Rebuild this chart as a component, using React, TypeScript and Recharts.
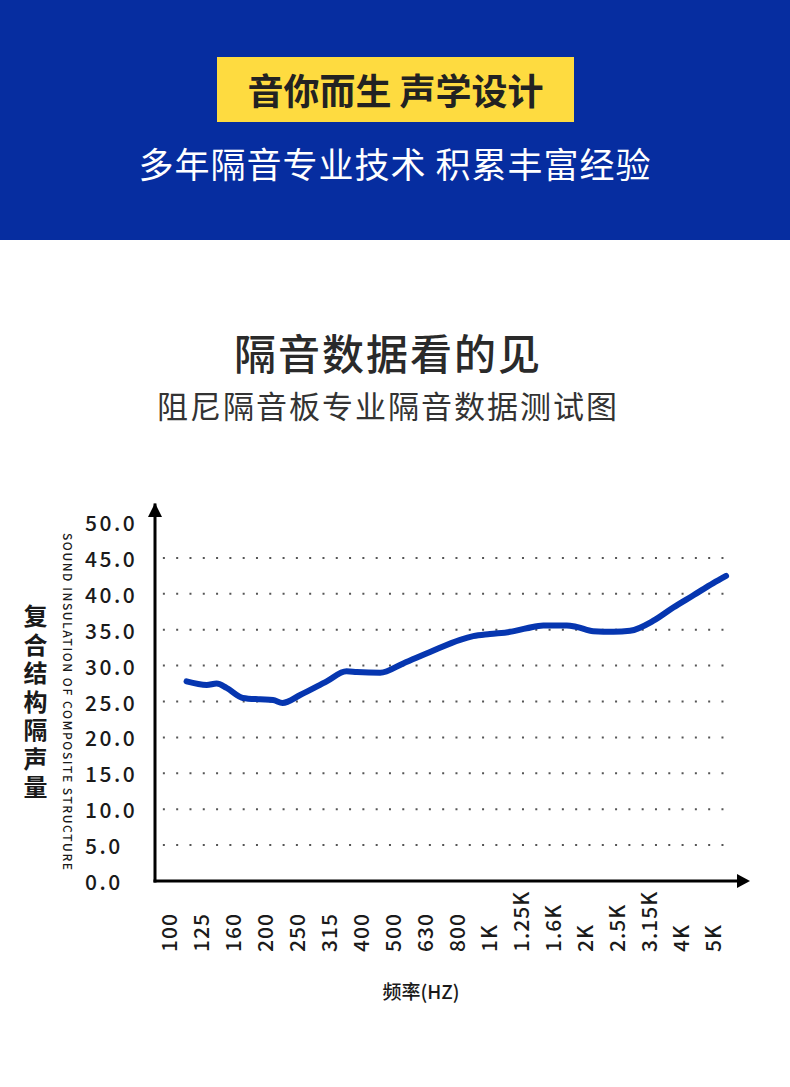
import React from "react";
import { LineChart, Line, XAxis, YAxis, ReferenceLine, ReferenceDot } from "recharts";

const freqLabels = ["100", "125", "160", "200", "250", "315", "400", "500", "630", "800", "1K", "1.25K", "1.6K", "2K", "2.5K", "3.15K", "4K", "5K"];
const tickIndex = freqLabels.map((_, i) => i);

// curve positions in tick-index units and insulation values (dB)
const curvePos = [0.58, 1.21, 1.52, 1.83, 2.34, 2.88, 3.28, 3.58, 4.13, 4.96, 5.58, 5.9, 6.63, 7.35, 8.19, 9.13, 9.54, 10.06, 10.69, 11.21, 11.73, 12.46, 12.77, 13.29, 13.92, 14.44, 15.17, 15.79, 16.42, 17.04, 17.44];
const curveValues = [27.8, 27.3, 27.5, 26.9, 25.5, 25.3, 25.2, 24.8, 25.9, 27.8, 29.2, 29.1, 29.0, 30.3, 31.9, 33.6, 34.1, 34.4, 34.7, 35.2, 35.6, 35.6, 35.4, 34.8, 34.7, 34.85, 36.25, 38.1, 39.8, 41.5, 42.5];

const yTicks = [0, 5, 10, 15, 20, 25, 30, 35, 40, 45, 50];
const gridValues = [5, 10, 15, 20, 25, 30, 35, 40, 45];

const X_DOMAIN: [number, number] = [-0.406, 17.875];
const Y_DOMAIN: [number, number] = [0, 52.37];
const GRID_X: [number, number] = [-0.16, 17.6];

const data = curvePos.map((p, i) => ({ pos: p, value: curveValues[i] }));

const FONT = '"Noto Sans CJK SC", "Noto Sans", sans-serif';

const XTick = (props: any) => {
  const { x, payload } = props;
  const ly = 952;
  return (
    <text
      x={x}
      y={ly}
      transform={`rotate(-90, ${x}, ${ly})`}
      textAnchor="start"
      dominantBaseline="central"
      fontSize={21}
      fontWeight={500}
      letterSpacing={1}
      fill="#1a1a1a"
      fontFamily={FONT}
    >
      {freqLabels[payload.value]}
    </text>
  );
};

const YTick = (props: any) => {
  const { y, payload } = props;
  return (
    <text
      x={85}
      y={y}
      textAnchor="start"
      dominantBaseline="central"
      fontSize={21}
      fontWeight={500}
      letterSpacing={2.5}
      fill="#1a1a1a"
      fontFamily={FONT}
    >
      {Number(payload.value).toFixed(1)}
    </text>
  );
};

const RightArrow = (props: any) => {
  const { cx, cy } = props;
  return <polygon points={`${cx - 3},${cy - 7} ${cx + 10},${cy} ${cx - 3},${cy + 7}`} fill="#000" />;
};

const UpArrow = (props: any) => {
  const { cx, cy } = props;
  return <polygon points={`${cx - 7},${cy + 12} ${cx},${cy - 2} ${cx + 7},${cy + 12}`} fill="#000" />;
};

export default function App() {
  return (
    <div style={{ position: "absolute", left: 0, top: 0, width: 790, height: 1087, background: "#fff", overflow: "hidden", fontFamily: FONT }}>
      {/* header band */}
      <div style={{ position: "absolute", left: 0, top: 0, width: 790, height: 240, background: "#062da0" }} />
      <div style={{ position: "absolute", left: 217, top: 57, width: 357, height: 65, background: "#fedb40" }} />
      <div style={{ position: "absolute", left: 217, top: 57, width: 357, height: 65, lineHeight: "65px", textAlign: "center", fontSize: 36, fontWeight: 700, color: "#222", whiteSpace: "nowrap" }}>
        音你而生 声学设计
      </div>
      <div style={{ position: "absolute", left: 0, top: 140, width: 790, height: 46, lineHeight: "46px", textAlign: "center", fontSize: 35, fontWeight: 400, color: "#fff", letterSpacing: 1, whiteSpace: "nowrap" }}>
        多年隔音专业技术 积累丰富经验
      </div>

      {/* titles */}
      <div style={{ position: "absolute", left: 0, top: 324, width: 776, height: 56, lineHeight: "56px", textAlign: "center", fontSize: 42, fontWeight: 500, color: "#2a2a2a", letterSpacing: 2, whiteSpace: "nowrap" }}>
        隔音数据看的见
      </div>
      <div style={{ position: "absolute", left: 0, top: 384, width: 776, height: 42, lineHeight: "42px", textAlign: "center", fontSize: 31, fontWeight: 400, color: "#333", letterSpacing: 2, whiteSpace: "nowrap" }}>
        阻尼隔音板专业隔音数据测试图
      </div>

      {/* y axis titles */}
      <div style={{ position: "absolute", left: 20, top: 604, writingMode: "vertical-rl", fontSize: 24, fontWeight: 700, color: "#1a1a1a", letterSpacing: 4.5, lineHeight: "30px", whiteSpace: "nowrap" }}>
        复合结构隔声量
      </div>

      <div style={{ position: "absolute", left: 0, top: 0 }}>
        <LineChart width={790} height={1087} data={data} margin={{ top: 505, right: 50, bottom: 136, left: 95 }}>
          <XAxis
            type="number"
            dataKey="pos"
            domain={X_DOMAIN}
            ticks={tickIndex}
            allowDataOverflow
            height={70}
            tickLine={false}
            axisLine={{ stroke: "#000", strokeWidth: 3, strokeLinecap: "square" }}
            tick={<XTick />}
            interval={0}
          />
          <YAxis
            type="number"
            domain={Y_DOMAIN}
            ticks={yTicks}
            allowDataOverflow
            width={60}
            tickLine={false}
            axisLine={{ stroke: "#000", strokeWidth: 3, strokeLinecap: "square" }}
            tick={<YTick />}
            interval={0}
          />
          {gridValues.map((v) => (
            <ReferenceLine
              key={v}
              segment={[{ x: GRID_X[0], y: v }, { x: GRID_X[1], y: v }]}
              stroke="#555"
              strokeWidth={2}
              strokeDasharray="2 11.3"
              ifOverflow="visible"
            />
          ))}
          <ReferenceDot x={X_DOMAIN[1]} y={0} r={0} shape={<RightArrow />} ifOverflow="visible" />
          <ReferenceDot x={X_DOMAIN[0]} y={Y_DOMAIN[1]} r={0} shape={<UpArrow />} ifOverflow="visible" />
          <Line
            type="monotone"
            dataKey="value"
            stroke="#0636b0"
            strokeWidth={6}
            strokeLinecap="round"
            strokeLinejoin="round"
            dot={false}
            activeDot={false}
            isAnimationActive={false}
          />
          <text
            x={421}
            y={990}
            textAnchor="middle"
            dominantBaseline="central"
            fontSize={19}
            fontWeight={500}
            fill="#1a1a1a"
            fontFamily={FONT}
          >
            频率(HZ)
          </text>
          <text
            x={68}
            y={533}
            transform="rotate(90, 68, 533)"
            textAnchor="start"
            dominantBaseline="central"
            fontSize={12}
            fontWeight={500}
            fill="#1a1a1a"
            fontFamily={FONT}
            textLength={337}
            lengthAdjust="spacing"
          >
            SOUND INSULATION OF COMPOSITE STRUCTURE
          </text>
        </LineChart>
      </div>
    </div>
  );
}
